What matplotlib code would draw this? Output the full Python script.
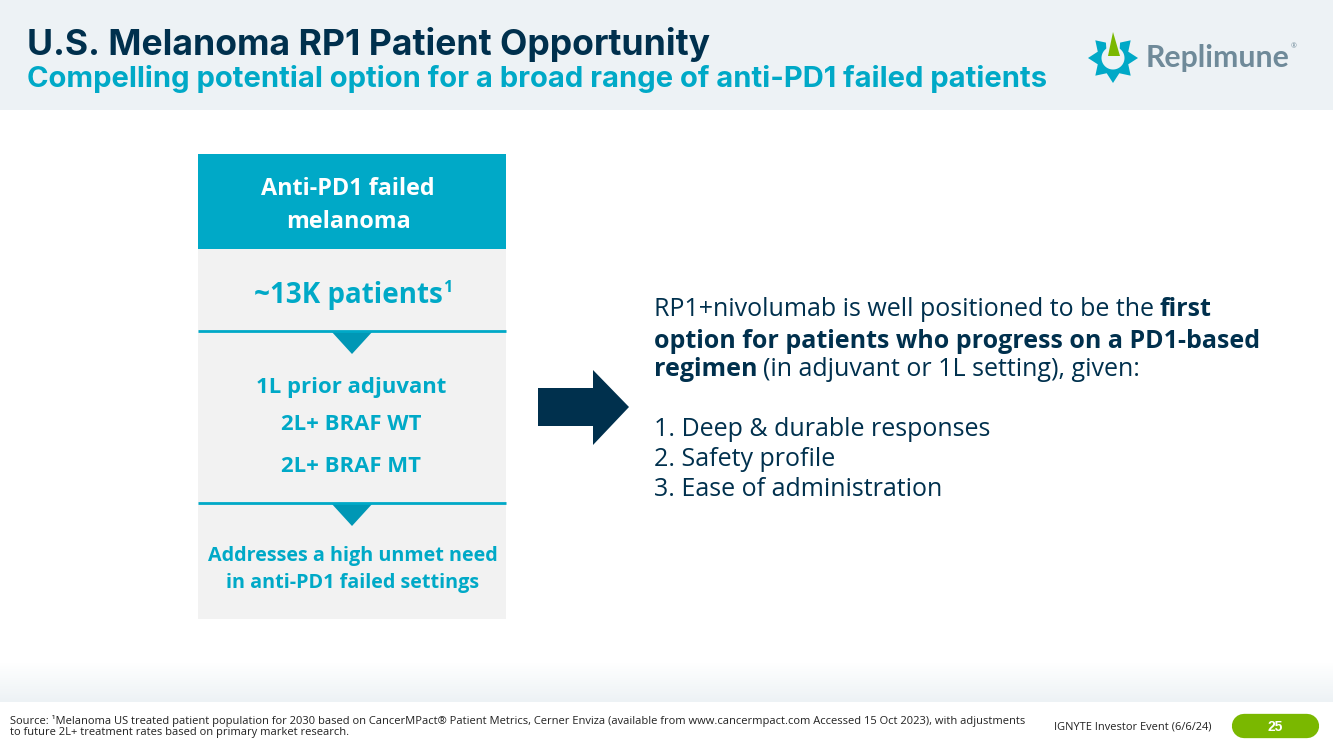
import numpy as np
import matplotlib.pyplot as plt

##colours
teal="#00A9C7"
darkTeal="#0097B5"
navy="#00304D"
bandColor="#EDF2F5"
boxColor="#F2F2F2"
green="#7AB800"
logoGrey="#6F8A99"

plt.rcParams["font.family"]="Open Sans"

##Full slide in pixel coordinates
plt.figure(figsize=(13.33,7.49),dpi=100)
plt.axes([0,0,1,1])
plt.xlim(0,1333)
plt.ylim(749,0)
plt.axis("off")

##Header band and the fade above the footer
plt.fill_between([0,1333],0,110,color=bandColor,lw=0)
fade=np.linspace(0,1,40).reshape(-1,1)
plt.imshow(fade,extent=[0,1333,702,662],cmap=plt.matplotlib.colors.LinearSegmentedColormap.from_list("fade",["#FFFFFF",bandColor]),aspect="auto",zorder=0)
plt.xlim(0,1333)
plt.ylim(749,0)

##Titles
plt.text(27,45,"U.S. Melanoma RP1 Patient Opportunity",fontsize=25.6,fontweight="bold",family="Inter",color=navy,va="center")
plt.text(27,79,"Compelling potential option for a broad range of anti-PD1 failed patients",fontsize=21,fontweight="bold",family="Inter",color=teal,va="center")

##Logo star, eight points with the top one left open for the spike
angles=np.linspace(0,2*np.pi,17)[:-1]+np.pi/2
radius=np.where(np.arange(16)%2==0,25,16.5)
plt.fill(1113+radius*np.cos(angles),58-radius*np.sin(angles),color=teal,lw=0)
plt.fill([1105,1121,1119,1107],[30,30,58,58],color=bandColor,lw=0)
theta=np.linspace(0,2*np.pi,60)
plt.fill(1113+11.5*np.cos(theta),58+11.5*np.sin(theta),color=bandColor,lw=0)
plt.fill([1108,1113,1120],[56,32,56],color=green,lw=0)
plt.text(1146,58,"Replimune",fontsize=21.8,fontweight="bold",color=logoGrey,va="center",family="Lato")
plt.text(1291,47,"®",fontsize=5,color=logoGrey,va="center")

##Left hand box
plt.fill_between([198,506],154,249,color=teal,lw=0)
plt.fill_between([198,506],249,619,color=boxColor,lw=0)
plt.text(348,189,"Anti-PD1 failed",fontsize=16.8,fontweight="bold",color="white",ha="center",va="center")
plt.text(348,222,"melanoma",fontsize=16.8,fontweight="bold",color="white",ha="center",va="center")
plt.text(254,295,"~13K patients",fontsize=20,fontweight="bold",color=teal,va="center")
plt.text(443,288,"1",fontsize=11.5,fontweight="bold",color=teal,va="center")

##Dividers with the small down triangles
for y in [331,503]:
    plt.plot([198,506],[y,y],color=teal,lw=2,solid_capstyle="butt")
    plt.fill([331,373,352],[y,y,y+23],color=darkTeal,lw=0)

plt.text(351,388,"1L prior adjuvant",fontsize=15.9,fontweight="bold",color=teal,ha="center",va="center")
plt.text(351,425,"2L+ BRAF WT",fontsize=15.9,fontweight="bold",color=teal,ha="center",va="center")
plt.text(351,467,"2L+ BRAF MT",fontsize=15.9,fontweight="bold",color=teal,ha="center",va="center")
plt.text(353,556,"Addresses a high unmet need",fontsize=14.2,fontweight="bold",color=teal,ha="center",va="center")
plt.text(353,583,"in anti-PD1 failed settings",fontsize=14.2,fontweight="bold",color=teal,ha="center",va="center")

##Big arrow
plt.fill([538,593,593,629,593,593,538],[388,388,370,407,445,426,426],color=navy,lw=0)

##Right hand text
plt.text(654,310,"RP1+nivolumab is well positioned to be the ",fontsize=18,color=navy,va="center")
plt.text(1160,310,"first",fontsize=18,fontweight="bold",color=navy,va="center")
plt.text(654,341,"option for patients who progress on a PD1-based",fontsize=18,fontweight="bold",color=navy,va="center")
plt.text(654,370,"regimen",fontsize=18,fontweight="bold",color=navy,va="center")
plt.text(763,370,"(in adjuvant or 1L setting), given:",fontsize=18,color=navy,va="center")
plt.text(654,430,"1. Deep & durable responses",fontsize=18,color=navy,va="center")
plt.text(654,460,"2. Safety profile",fontsize=18,color=navy,va="center")
plt.text(654,490,"3. Ease of administration",fontsize=18,color=navy,va="center")

##Footer
plt.text(10,721,"Source: ¹Melanoma US treated patient population for 2030 based on CancerMPact® Patient Metrics, Cerner Enviza (available from www.cancermpact.com Accessed 15 Oct 2023), with adjustments",fontsize=8,color="#222222",va="center")
plt.text(10,732,"to future 2L+ treatment rates based on primary market research.",fontsize=8,color="#222222",va="center")
plt.text(1054,727,"IGNYTE Investor Event (6/6/24)",fontsize=7.9,color="#222222",va="center")
plt.plot([1244,1307],[726,726],color=green,lw=17.5,solid_capstyle="round")
plt.text(1275,727,"25",fontsize=10,fontweight="bold",family="Liberation Sans",color="white",ha="center",va="center")

plt.savefig("out.png",dpi=100)
